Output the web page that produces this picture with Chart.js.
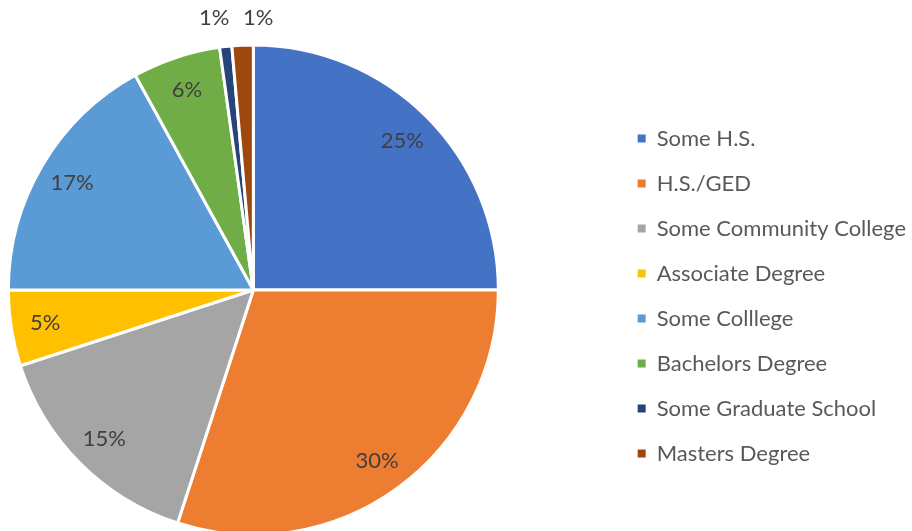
<!DOCTYPE html>
<html>
<head>
<meta charset="utf-8">
<script src="https://cdn.jsdelivr.net/npm/chart.js@4/dist/chart.umd.min.js"></script>
<style>
  html, body { margin: 0; padding: 0; background: #fff; overflow: hidden; }
  #wrap { width: 912px; height: 531px; overflow: hidden; position: relative; }
  /* canvas is wider than the page so the pie sits left of the centre of its area */
  #eduChart { position: absolute; left: -108px; top: 0; }
</style>
</head>
<body>
<div id="wrap"><canvas id="eduChart" width="1024" height="531"></canvas></div>
<script>
const categories = ['Some H.S.', 'H.S./GED', 'Some Community College', 'Associate Degree', 'Some Colllege', 'Bachelors Degree', 'Some Graduate School', 'Masters Degree'];
const shares = [25, 30, 15, 5, 17, 5.8, 0.8, 1.4];
const sliceColors = ['#4472C4', '#ED7D31', '#A5A5A5', '#FFC000', '#5B9BD5', '#70AD47', '#264478', '#9E480E'];

Chart.defaults.font.family = 'Lato';

// percentage labels on the slices, tiny ones go above the pie
const pctLabels = {
    id: 'pctLabels',
    afterDatasetsDraw(chart) {
        const ctx = chart.ctx;
        const meta = chart.getDatasetMeta(0);
        const data = chart.data.datasets[0].data;
        const total = data.reduce((a, b) => a + b, 0);
        const small = [];
        ctx.save();
        ctx.font = '22px Lato';
        ctx.fillStyle = '#404040';
        ctx.textAlign = 'center';
        ctx.textBaseline = 'middle';
        meta.data.forEach((arc, i) => {
            const pct = Math.round(data[i] / total * 100) + '%';
            const mid = (arc.startAngle + arc.endAngle) / 2;
            if (data[i] / total < 0.02) {
                small.push({ pct, x: arc.x + Math.cos(mid) * arc.outerRadius, top: arc.y - arc.outerRadius });
                return;
            }
            const r = arc.outerRadius * 0.86;
            ctx.fillText(pct, arc.x + Math.cos(mid) * r, arc.y + Math.sin(mid) * r);
        });
        if (small.length) {
            const cx = small.reduce((s, d) => s + d.x, 0) / small.length;
            small.forEach((d, k) => {
                ctx.fillText(d.pct, cx + 2 + (k - (small.length - 1) / 2) * 44, d.top - 27);
            });
        }
        ctx.restore();
    }
};

const ctx = document.getElementById('eduChart').getContext('2d');
new Chart(ctx, {
    type: 'pie',
    data: {
        labels: categories,
        datasets: [{
            data: shares,
            backgroundColor: sliceColors,
            borderColor: '#ffffff',
            borderWidth: 3,
            radius: 245
        }]
    },
    options: {
        responsive: false,
        animation: false,
        layout: {
            padding: { top: 49, left: 0, right: 0, bottom: 0 }
        },
        plugins: {
            legend: {
                position: 'right',
                title: { display: true, text: '', padding: 0, font: { size: 10, lineHeight: 1.2 } },
                labels: {
                    boxWidth: 8,
                    boxHeight: 8,
                    padding: 23,
                    color: '#595959',
                    font: { size: 22 },
                    generateLabels(chart) {
                        return Chart.overrides.doughnut.plugins.legend.labels.generateLabels(chart)
                            .map(l => ({ ...l, lineWidth: 0 }));
                    }
                }
            },
            tooltip: { enabled: false }
        }
    },
    plugins: [pctLabels]
});
</script>
</body>
</html>
